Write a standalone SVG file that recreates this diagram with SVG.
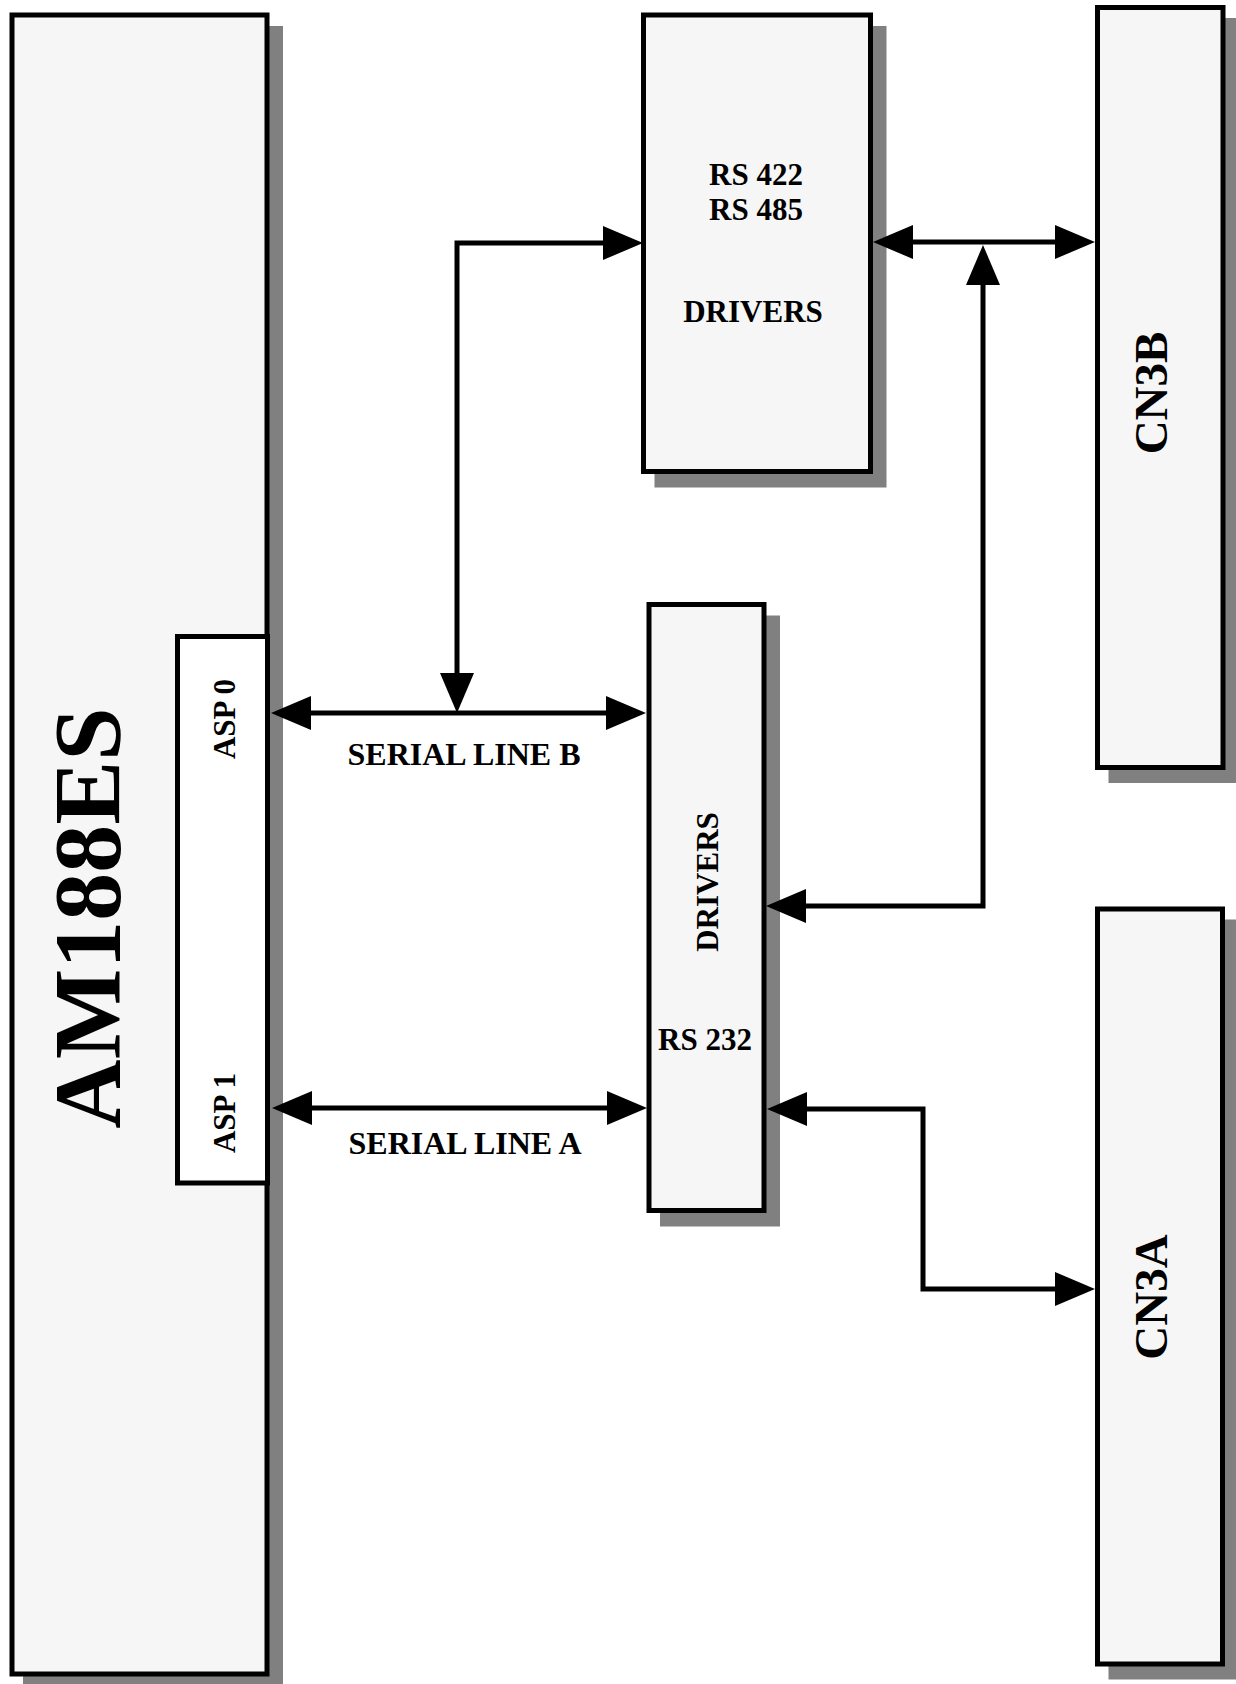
<svg xmlns="http://www.w3.org/2000/svg" width="1236" height="1684" viewBox="0 0 1236 1684">
<style>
.shadow{fill:#808080;stroke:#808080;stroke-width:5}
.box{fill:#f6f6f6;stroke:#000;stroke-width:5}
.white{fill:#fff;stroke:#000;stroke-width:5}
.lbl{font-family:"Liberation Serif","Times New Roman",serif;font-weight:bold;fill:#000}
.conn{fill:none;stroke:#000;stroke-width:5;stroke-linejoin:miter}
</style>
<defs>
<marker id="ah" markerUnits="userSpaceOnUse" markerWidth="42" markerHeight="36" refX="1" refY="17" orient="auto-start-reverse" viewBox="0 0 42 36" overflow="visible">
<path d="M0,0 L40,17 L0,34 Z" fill="#000"/>
</marker>
</defs>

<g id="am188es">
<rect class="shadow" x="25.5" y="28.5" width="255" height="1659"/>
<rect class="box" x="12" y="15" width="255" height="1659"/>
<text class="lbl" font-size="96" text-anchor="middle" transform="translate(120,918) rotate(-90)">AM188ES</text>
</g>

<g id="asp">
<rect class="white" x="177.5" y="636.5" width="90" height="546.5"/>
<text class="lbl" font-size="31" text-anchor="middle" transform="translate(235,719) rotate(-90)">ASP 0</text>
<text class="lbl" font-size="31" text-anchor="middle" transform="translate(235,1113) rotate(-90)">ASP 1</text>
</g>

<g id="rs422">
<rect class="shadow" x="657" y="28.5" width="227" height="456.5"/>
<rect class="box" x="643.5" y="15" width="227" height="456.5"/>
<text class="lbl" font-size="31" text-anchor="middle" x="756" y="185">RS 422</text>
<text class="lbl" font-size="31" text-anchor="middle" x="756" y="220">RS 485</text>
<text class="lbl" font-size="31" text-anchor="middle" x="753" y="322">DRIVERS</text>
</g>

<g id="cn3b">
<rect class="shadow" x="1111" y="20.5" width="125.5" height="760"/>
<rect class="box" x="1097.5" y="7.5" width="125.5" height="760"/>
<text class="lbl" font-size="47" text-anchor="middle" transform="translate(1167,393) rotate(-90)">CN3B</text>
</g>

<g id="cn3a">
<rect class="shadow" x="1111" y="922" width="125" height="755"/>
<rect class="box" x="1097.5" y="909" width="125" height="755"/>
<text class="lbl" font-size="47" text-anchor="middle" transform="translate(1167,1297) rotate(-90)">CN3A</text>
</g>

<g id="rs232">
<rect class="shadow" x="662.5" y="618" width="115" height="606"/>
<rect class="box" x="649" y="604.5" width="115" height="606"/>
<text class="lbl" font-size="31" text-anchor="middle" transform="translate(718,882) rotate(-90)">DRIVERS</text>
<text class="lbl" font-size="31" text-anchor="middle" x="705" y="1050">RS 232</text>
</g>

<g id="connectors">
<path class="conn" d="M310,713 L607,713" marker-start="url(#ah)" marker-end="url(#ah)"/>
<path class="conn" d="M311,1108 L608,1108" marker-start="url(#ah)" marker-end="url(#ah)"/>
<path class="conn" d="M604,243 L457,243 L457,674" marker-start="url(#ah)" marker-end="url(#ah)"/>
<path class="conn" d="M912,242 L1056,242" marker-start="url(#ah)" marker-end="url(#ah)"/>
<path class="conn" d="M805,906 L983,906 L983,284" marker-start="url(#ah)" marker-end="url(#ah)"/>
<path class="conn" d="M806,1109 L923,1109 L923,1289 L1056,1289" marker-start="url(#ah)" marker-end="url(#ah)"/>
</g>

<g id="labels">
<text class="lbl" font-size="32" text-anchor="middle" x="464" y="765">SERIAL LINE B</text>
<text class="lbl" font-size="32" text-anchor="middle" x="465" y="1154">SERIAL LINE A</text>
</g>
</svg>
